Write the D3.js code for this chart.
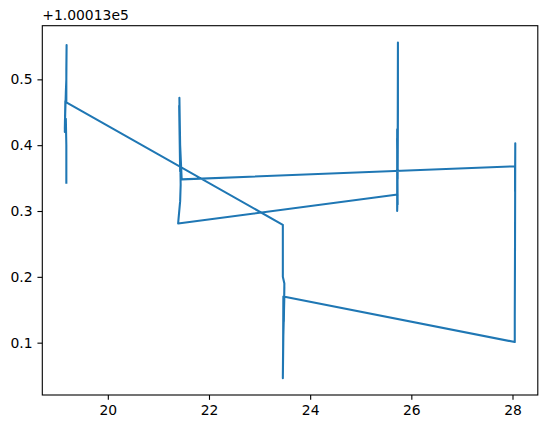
<!DOCTYPE html>
<html>
<head>
<meta charset="utf-8">
<script src="https://cdn.jsdelivr.net/npm/d3@7"></script>
<style>
  body { margin: 0; background: #fff; }
  svg { display: block; font-family: "DejaVu Sans", sans-serif; }
</style>
</head>
<body>
<div id="chart"></div>
<script>
// y values are shown relative to this offset (matplotlib style)
const yOffset = 100013
const offsetLabel = '+1.00013e5'

// path visits the clusters in order A -> D -> E -> B -> C
const xs = [
    19.18, 19.18, 19.17, 19.15, 19.16, 19.15, 19.162, 19.152, 19.16, 19.155, 19.17, 19.18, 19.18, 19.185, 19.18, 19.18,
    23.46, 23.46, 23.49, 23.48, 23.49, 23.48, 23.49, 23.47, 23.46, 23.465, 23.47,
    28.045, 28.045, 28.05, 28.055, 28.05, 28.05,
    21.46, 21.43, 21.415, 21.43, 21.41, 21.435, 21.415, 21.43, 21.42, 21.44, 21.43, 21.40, 21.39,
    25.73, 25.72, 25.72, 25.73, 25.718, 25.728, 25.72, 25.725, 25.73, 25.735, 25.735, 25.73
]
const ys = [
    0.343, 0.40, 0.44, 0.42, 0.467, 0.425, 0.46, 0.43, 0.455, 0.44, 0.48, 0.50, 0.515, 0.552, 0.50, 0.465,
    0.279, 0.20, 0.19, 0.132, 0.185, 0.14, 0.17, 0.11, 0.046, 0.09, 0.17,
    0.101, 0.14, 0.25, 0.403, 0.33, 0.368,
    0.348, 0.40, 0.472, 0.36, 0.46, 0.37, 0.45, 0.38, 0.44, 0.34, 0.315, 0.29, 0.281,
    0.325, 0.30, 0.424, 0.31, 0.41, 0.33, 0.40, 0.32, 0.38, 0.556, 0.45, 0.35
]
const xTicks = [20, 22, 24, 26, 28]
const yTicks = [0.1, 0.2, 0.3, 0.4, 0.5]

const data = xs.map((x, i) => ({ x: x, y: yOffset + ys[i] }))

const width = 547, height = 428
const margin = ({ top: 25.7, right: 9.2, bottom: 33, left: 42.3 })
const fontSize = 13.9
const tickLen = 4.86

const svg = d3.select('#chart')
    .append('svg')
    .attr('width', width)
    .attr('height', height)

const pad = (ext) => {
    const d = (ext[1] - ext[0]) * 0.05
    return [ext[0] - d, ext[1] + d]
}

const x = d3.scaleLinear()
    .domain(pad(d3.extent(data, d => d.x)))
    .range([margin.left, width - margin.right])
const y = d3.scaleLinear()
    .domain(pad(d3.extent(data, d => d.y)))
    .range([height - margin.bottom, margin.top])

const xAxis = g => g
    .attr('transform', `translate(0,${height - margin.bottom})`)
    .call(d3.axisBottom(x).tickValues(xTicks).tickFormat(d3.format('d'))
        .tickSize(tickLen).tickPadding(4.86))
const yAxis = g => g
    .attr('transform', `translate(${margin.left},0)`)
    .call(d3.axisLeft(y).tickValues(yTicks.map(v => yOffset + v))
        .tickFormat(d => (d - yOffset).toFixed(1))
        .tickSize(tickLen).tickPadding(4.86))

const line = d3.line()
    .x(d => x(d.x))
    .y(d => y(d.y))

svg.append('defs').append('clipPath')
    .attr('id', 'clip')
    .append('rect')
    .attr('x', margin.left)
    .attr('y', margin.top)
    .attr('width', width - margin.left - margin.right)
    .attr('height', height - margin.top - margin.bottom)

svg.append('path')
    .datum(data)
    .attr('fill', 'none')
    .attr('stroke', '#1f77b4')
    .attr('stroke-width', 2.08)
    .attr('stroke-linejoin', 'round')
    .attr('stroke-linecap', 'square')
    .attr('clip-path', 'url(#clip)')
    .attr('d', line)

svg.append('g').call(xAxis)
svg.append('g').call(yAxis)

svg.selectAll('.domain').remove()
svg.selectAll('.tick line').attr('stroke', '#000').attr('stroke-width', 1.1)
svg.selectAll('.tick text').attr('fill', '#000')
    .attr('font-size', fontSize).attr('font-family', '"DejaVu Sans", sans-serif')

svg.append('rect')
    .attr('x', margin.left)
    .attr('y', margin.top)
    .attr('width', width - margin.left - margin.right)
    .attr('height', height - margin.top - margin.bottom)
    .attr('fill', 'none')
    .attr('stroke', '#000')
    .attr('stroke-width', 1.1)

svg.append('text')
    .attr('x', margin.left)
    .attr('y', margin.top - 5.3)
    .attr('font-size', fontSize)
    .attr('fill', '#000')
    .text(offsetLabel)
</script>
</body>
</html>
